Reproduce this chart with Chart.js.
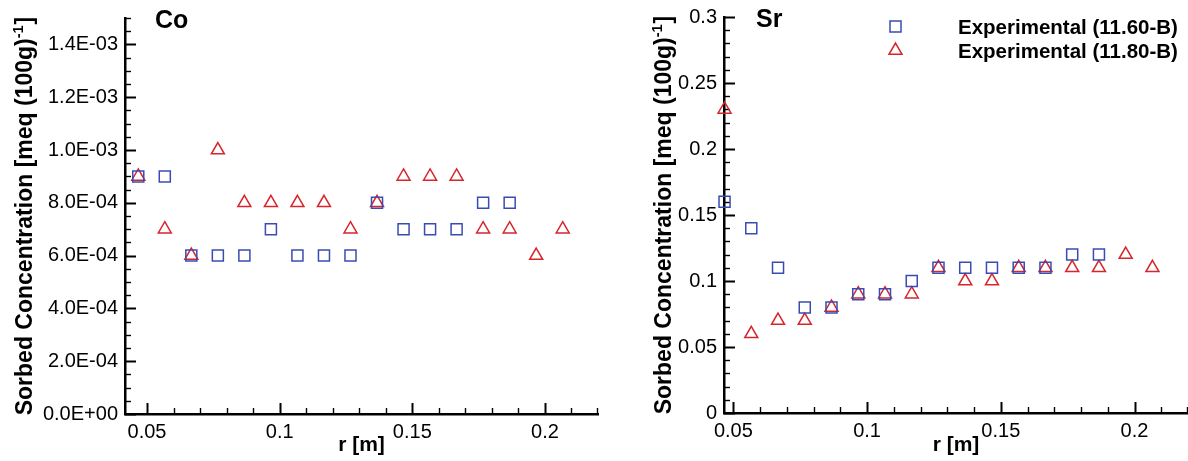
<!DOCTYPE html>
<html>
<head>
<meta charset="utf-8">
<script src="https://cdn.jsdelivr.net/npm/chart.js@4.4.1/dist/chart.umd.min.js"></script>
<style>
html,body{margin:0;padding:0;background:#fff;overflow:hidden;width:1188px;height:461px}
.wrap{position:absolute;top:0;height:461px}
</style>
</head>
<body>
<div class="wrap" style="left:0;width:600px"><canvas id="coChart" width="600" height="461"></canvas></div>
<div class="wrap" style="left:600px;width:588px"><canvas id="srChart" width="588" height="461"></canvas></div>
<script>
// ---- data ----
const rPositions = [0.0467, 0.0567, 0.0667, 0.0767, 0.0867, 0.0967, 0.1067, 0.1167, 0.1267,
                    0.1367, 0.1467, 0.1567, 0.1667, 0.1767, 0.1867, 0.1967, 0.2067];
const co1160 = [9e-4, 9e-4, 6e-4, 6e-4, 6e-4, 7e-4, 6e-4, 6e-4, 6e-4, 8e-4, 7e-4, 7e-4, 7e-4, 8e-4, 8e-4];
const co1180 = [9e-4, 7e-4, 6e-4, 1e-3, 8e-4, 8e-4, 8e-4, 8e-4, 7e-4, 8e-4, 9e-4, 9e-4, 9e-4, 7e-4, 7e-4, 6e-4, 7e-4];
const sr1160 = [0.16, 0.14, 0.11, 0.08, 0.08, 0.09, 0.09, 0.10, 0.11, 0.11, 0.11, 0.11, 0.11, 0.12, 0.12];
const sr1180 = [0.23, 0.06, 0.07, 0.07, 0.08, 0.09, 0.09, 0.09, 0.11, 0.10, 0.10, 0.11, 0.11, 0.11, 0.11, 0.12, 0.11];
const seriesNames = ["Experimental (11.60-B)", "Experimental (11.80-B)"];
const xTicks = [0.05, 0.1, 0.15, 0.2];
const xTickLabels = ["0.05", "0.1", "0.15", "0.2"];
const coYTicks = [0, 2e-4, 4e-4, 6e-4, 8e-4, 1e-3, 1.2e-3, 1.4e-3];
const coYTickLabels = ["0.0E+00", "2.0E-04", "4.0E-04", "6.0E-04", "8.0E-04", "1.0E-03", "1.2E-03", "1.4E-03"];
const srYTicks = [0, 0.05, 0.1, 0.15, 0.2, 0.25, 0.3];
const srYTickLabels = ["0", "0.05", "0.1", "0.15", "0.2", "0.25", "0.3"];

const BLUE = 'rgb(58,76,178)';
const RED = 'rgb(214,38,44)';
const FONT = '"Liberation Sans", Arial, Helvetica, sans-serif';

function pts(vals) { return vals.map((v, i) => ({x: rPositions[i], y: v})); }

const decor = {
  id: 'decor',
  beforeDatasetsDraw(chart, args, o) {
    const {ctx, chartArea: a, scales: {x, y}} = chart;
    ctx.save();
    ctx.strokeStyle = '#000';
    const eps = 1e-9;
    for (let k = 0; ; k++) {
      const v = o.xMinorStart + k * o.xMinorStep;
      if (v > x.max + eps) break;
      if (v < x.min - eps) continue;
      const major = xTicks.some(t => Math.abs(t - v) < 1e-7);
      const px = Math.min(Math.round(x.getPixelForValue(v)) + 0.5, a.right - 0.5);
      ctx.lineWidth = major ? 2 : 1.4;
      ctx.beginPath(); ctx.moveTo(px, a.bottom); ctx.lineTo(px, a.bottom - (major ? 11 : 6)); ctx.stroke();
    }
    for (let k = 0; ; k++) {
      const v = k * o.yMinorStep;
      if (v > y.max + eps) break;
      const major = o.yTicks.some(t => Math.abs(t - v) < o.yMinorStep / 100);
      const py = Math.round(y.getPixelForValue(v)) + 0.5;
      ctx.lineWidth = major ? 2 : 1.4;
      ctx.beginPath(); ctx.moveTo(a.left, py); ctx.lineTo(a.left + (major ? 11 : 6), py); ctx.stroke();
    }
    ctx.restore();
  },
  afterDraw(chart, args, o) {
    const {ctx, chartArea: a} = chart;
    ctx.save();
    ctx.fillStyle = '#000';
    ctx.font = 'bold 25px ' + FONT;
    ctx.textAlign = 'left'; ctx.textBaseline = 'alphabetic';
    ctx.fillText(o.title, o.titleX, o.titleY);
    ctx.font = 'bold 21px ' + FONT;
    ctx.textAlign = 'center';
    ctx.fillText('r [m]', (a.left + a.right) / 2, 451);
    const main = 'Sorbed Concentration [meq (100g)';
    const sup = '-1';
    const tail = ']';
    const fMain = 'bold 23px ' + FONT, fSup = 'bold 14.5px ' + FONT;
    ctx.font = fMain; const wMain = ctx.measureText(main).width; const wTail = ctx.measureText(tail).width;
    ctx.font = fSup; const wSup = ctx.measureText(sup).width;
    const total = wMain + wSup + wTail + 1;
    ctx.translate(o.yTitleX, (a.top + a.bottom) / 2);
    ctx.rotate(-Math.PI / 2);
    ctx.textAlign = 'left';
    let sx = -total / 2;
    ctx.font = fMain; ctx.fillText(main, sx, 0); sx += wMain;
    ctx.font = fSup; ctx.fillText(sup, sx, -9); sx += wSup + 1;
    ctx.font = fMain; ctx.fillText(tail, sx, 0);
    ctx.restore();
    if (o.legend) {
      ctx.save();
      chart.data.datasets.forEach((ds, i) => {
        const cy = o.legendY + i * 24;
        ctx.strokeStyle = ds.borderColor;
        ctx.fillStyle = 'rgba(0,0,0,0)';
        ctx.lineWidth = ds.pointBorderWidth;
        Chart.helpers.drawPoint(ctx, {pointStyle: ds.pointStyle, radius: ds.pointRadius, borderWidth: ds.pointBorderWidth, rotation: 0}, o.legendMarkerX, cy);
        ctx.fillStyle = '#000';
        ctx.font = 'bold 20.5px ' + FONT;
        ctx.textAlign = 'left'; ctx.textBaseline = 'alphabetic';
        ctx.fillText(ds.label, o.legendTextX, cy + 7);
      });
      ctx.restore();
    }
  }
};

function makeChart(id, cfg) {
  const datasets = [
    {label: seriesNames[0], data: pts(cfg.s1), pointStyle: 'rect', pointRadius: 7.8, pointHoverRadius: 7.8,
     borderColor: BLUE, backgroundColor: 'rgba(0,0,0,0)', pointBorderWidth: 1.5, showLine: false, clip: false},
    {label: seriesNames[1], data: pts(cfg.s2), pointStyle: 'triangle', pointRadius: 7.5, pointHoverRadius: 7.5,
     borderColor: RED, backgroundColor: 'rgba(0,0,0,0)', pointBorderWidth: 1.5, showLine: false, clip: false}
  ];
  return new Chart(document.getElementById(id), {
    type: 'scatter',
    data: {datasets},
    options: {
      responsive: false, animation: false, devicePixelRatio: 1,
      layout: {padding: cfg.padding, autoPadding: false},
      plugins: {legend: {display: false}, tooltip: {enabled: false}, title: {display: false}, decor: cfg.decor},
      events: [],
      scales: {
        x: {
          type: 'linear', min: cfg.xMin, max: cfg.xMax,
          afterBuildTicks: s => { s.ticks = xTicks.map(v => ({value: v})); },
          afterFit: s => { s.height = cfg.xHeight; s.paddingLeft = 0; s.paddingRight = 0; },
          grid: {display: false, drawTicks: false},
          border: {display: true, color: '#000', width: 2.5},
          ticks: {autoSkip: false, maxRotation: 0, color: '#000', padding: 6,
                  font: {family: FONT, size: 20},
                  callback: (v) => xTickLabels[xTicks.findIndex(t => Math.abs(t - v) < 1e-9)]}
        },
        y: {
          type: 'linear', min: 0, max: cfg.yMax,
          afterBuildTicks: s => { s.ticks = cfg.yTicks.map(v => ({value: v})); },
          afterFit: s => { s.width = cfg.yWidth; s.paddingTop = 0; s.paddingBottom = 0; },
          grid: {display: false, drawTicks: false},
          border: {display: true, color: '#000', width: 2.5},
          ticks: {autoSkip: false, color: '#000', padding: 7,
                  font: {family: FONT, size: 20},
                  callback: (v) => cfg.yLabels[cfg.yTicks.findIndex(t => Math.abs(t - v) < cfg.yMax * 1e-6)]}
        }
      }
    },
    plugins: [decor]
  });
}

makeChart('coChart', {
  s1: co1160, s2: co1180, xMin: 0.0417, xMax: 0.22, yMax: 1.5e-3,
  yTicks: coYTicks, yLabels: coYTickLabels,
  padding: {top: 18, right: 2, left: 0, bottom: 0}, xHeight: 47, yWidth: 125,
  decor: {xMinorStart: 0.05, xMinorStep: 0.01, yMinorStep: 5e-5, yTicks: coYTicks,
          title: 'Co', titleX: 155, titleY: 28, yTitleX: 32, legend: false}
});
makeChart('srChart', {
  s1: sr1160, s2: sr1180, xMin: 0.0465, xMax: 0.22, yMax: 0.3,
  yTicks: srYTicks, yLabels: srYTickLabels,
  padding: {top: 17, right: 0, left: 0, bottom: 0}, xHeight: 48, yWidth: 124,
  decor: {xMinorStart: 0.05, xMinorStep: 0.01, yMinorStep: 0.01, yTicks: srYTicks,
          title: 'Sr', titleX: 156, titleY: 27, yTitleX: 71, legend: true,
          legendMarkerX: 295.5, legendY: 26.5, legendTextX: 358}
});
</script>
</body>
</html>
